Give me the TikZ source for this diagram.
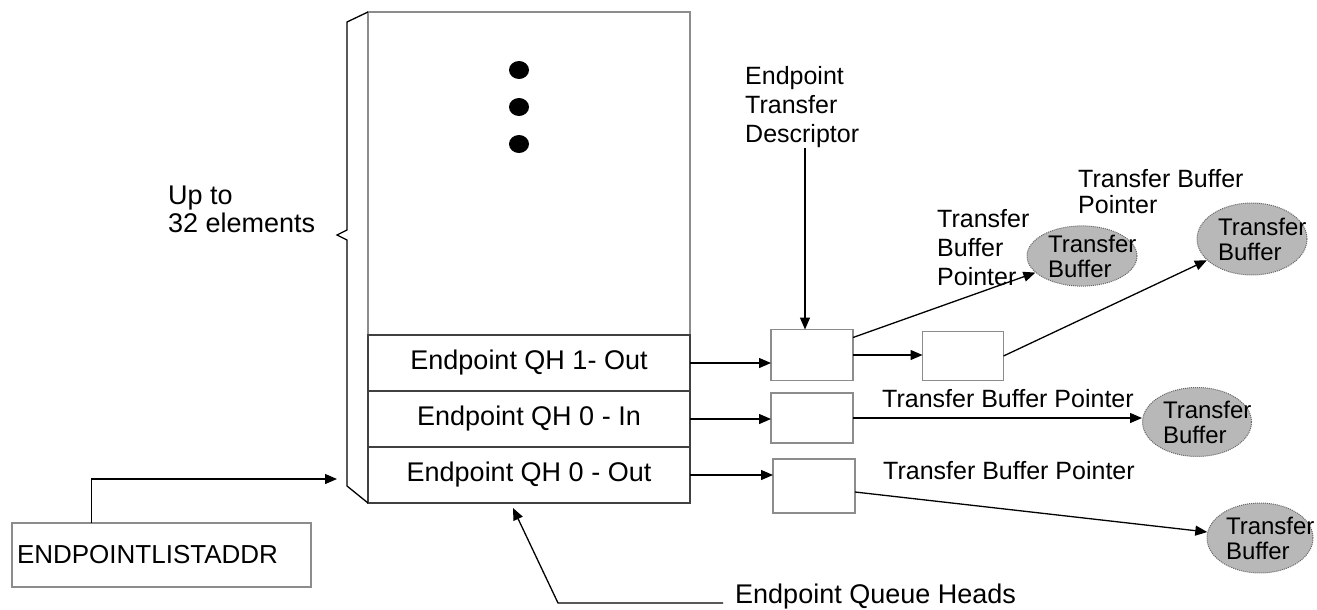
\documentclass[tikz,border=0pt]{standalone}
\usepackage{fontspec}
\setmainfont{Liberation Sans}
\usetikzlibrary{arrows.meta,positioning,shapes.geometric}

\tikzset{
  box/.style={draw=black!45, line width=1.3pt, inner sep=0pt, outer sep=0pt},
  qhrow/.style={box, draw=black!75, minimum width=322pt, minimum height=56pt, font=\fontsize{27}{30}\selectfont},
  tdbox/.style={box, minimum width=82pt, minimum height=51pt},
  bufnode/.style={ellipse, draw=black!60, densely dotted, line width=1pt, fill=black!28,
    inner xsep=-12pt, inner ysep=0pt, text width=68pt, align=left, font=\fontsize{24}{25}\selectfont},
  lbl/.style={inner sep=0pt, align=left, font=\fontsize{25}{29}\selectfont},
  link/.style={->, line width=1.3pt},
}

\begin{document}
\begin{tikzpicture}[x=1pt, y=-1pt, >={Triangle[length=12pt,width=10pt]}]
  \useasboundingbox (0,0) rectangle (1317,610);

  % Queue head list
  \node[box, minimum width=322pt, minimum height=323pt, anchor=north west] (qhlist) at (368,12) {};
  \node[qhrow, below=0pt of qhlist] (qh1out) {Endpoint QH 1- Out};
  \node[qhrow, below=0pt of qh1out] (qh0in) {Endpoint QH 0 - In};
  \node[qhrow, below=0pt of qh0in] (qh0out) {Endpoint QH 0 - Out};

  % Elision dots
  \foreach \y in {70,107,144}
    \fill (519,\y) ellipse (10pt and 9pt);

  % Brace
  \draw[line width=1.3pt] (qhlist.north west) -- (347,22) -- (347,230) -- (337,235)
    -- (347,240) -- (347,486) -- (qh0out.south west);
  \node[lbl, font=\fontsize{27}{28}\selectfont, anchor=north west] (upto) at (168,186) {Up to\\32 elements};

  % Base address register
  \node[box, minimum height=64pt, text width=289pt, inner xsep=5pt, anchor=north west,
    font=\fontsize{26}{28}\selectfont] (addr) at (12,523) {ENDPOINTLISTADDR};
  \coordinate (bracein) at (337,479);
  \draw[link] ([xshift=-70pt]addr.north) |- (bracein);

  % Transfer descriptors
  \node[tdbox] (td1) at (812,355) {};
  \node[tdbox, minimum width=81pt, minimum height=49pt] (td2) at (963,356) {};
  \node[tdbox, minimum height=50pt] (td3) at (812,418) {};
  \node[tdbox, minimum height=54pt] (td4) at (814,486) {};

  \draw[link] (qh1out.east) -- (qh1out.east -| td1.west);
  \draw[link] (qh0in.east) -- (qh0in.east -| td3.west);
  \draw[link] (qh0out.east) -- (qh0out.east -| td4.west);
  \draw[link] (td1.east) -- (td1.east -| td2.west);

  % Descriptor label
  \node[lbl, anchor=north west] (tdlabel) at (745,66) {Endpoint\\Transfer\\Descriptor};
  \coordinate (tdin) at ([xshift=-7pt]td1.north);
  \draw[link] (tdin |- tdlabel.south) -- (tdin);

  % Transfer buffers
  \node[bufnode, minimum width=110pt, minimum height=60pt] (buf1) at (1082,256) {Transfer\\Buffer};
  \node[bufnode, minimum width=110pt, minimum height=72pt] (buf2) at (1252,239) {Transfer\\Buffer};
  \node[bufnode, minimum width=109pt, minimum height=69pt] (buf3) at (1197,422) {Transfer\\Buffer};
  \node[bufnode, minimum width=106pt, minimum height=70pt] (buf4) at (1260,538) {Transfer\\Buffer};

  \draw[link] ([yshift=-8pt]td1.north east) -- (buf1);
  \draw[link] (td2.east) -- (buf2);
  \draw[link] (td3.east) -- (td3.east -| buf3.west);
  \draw[link] ([yshift=-6pt]td4.east) -- (buf4);

  % Pointer labels
  \node[lbl, anchor=north west] (ptr1) at (937,209) {Transfer\\Buffer\\Pointer};
  \node[lbl, anchor=north west, font=\fontsize{25}{26}\selectfont] (ptr2) at (1078,169) {Transfer Buffer\\Pointer};
  \node[lbl, anchor=base west] (ptr3) at (882,407) {Transfer Buffer Pointer};
  \node[lbl, anchor=base west] (ptr4) at (883,479) {Transfer Buffer Pointer};

  % Queue heads label
  \node[lbl, anchor=base west, font=\fontsize{27}{30}\selectfont] (qhlabel) at (735,603) {Endpoint Queue Heads};
  \coordinate (qhbend) at (558,603);
  \draw[link] ([xshift=-12pt]qhlabel.base west) -- (qhbend)
    -- ([xshift=-16pt,yshift=-5pt]qh0out.south);
\end{tikzpicture}
\end{document}
